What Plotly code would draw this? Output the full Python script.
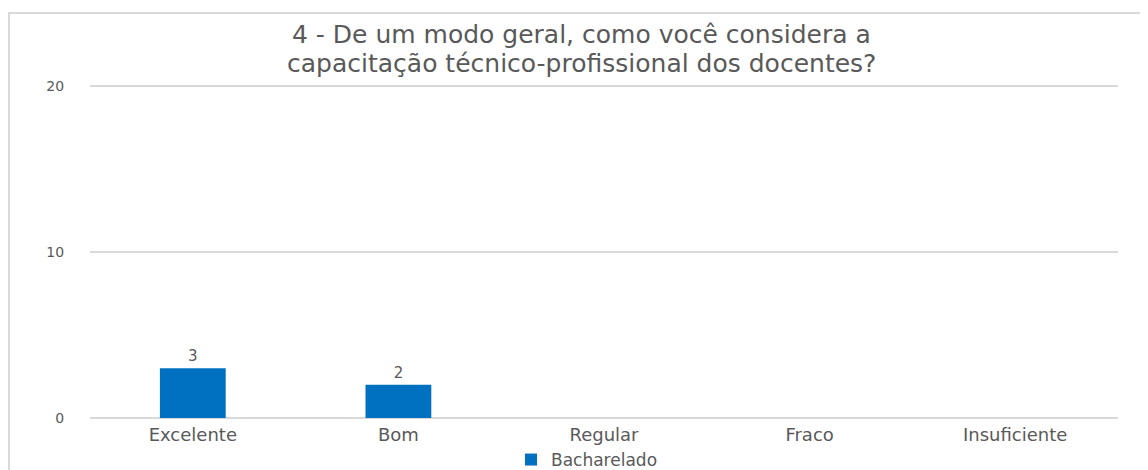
import plotly.graph_objects as go

categories = ["Excelente", "Bom", "Regular", "Fraco", "Insuficiente"]
values = [3, 2, None, None, None]
labels = ["3", "2", "", "", ""]
series_name = "Bacharelado"
title_lines = ["4 - De um modo geral, como você considera a",
               "capacitação técnico-profissional dos docentes?"]

OFF = 8  # page body margin
W, H = 1148 - OFF, 470 - OFF
YMAX = 20.4
unit = (418 - 86) / 20.0
ml, mr = 90 - OFF, 30
mb = H - (418 - OFF)
mt = (418 - OFF) - int(round(unit * YMAX))
pw, ph = W - ml - mr, H - mt - mb

def px_x(x):
    return (x - OFF - ml) / pw

def px_y(y):
    return (H - mb - (y - OFF)) / ph

fig = go.Figure()
fig.add_trace(go.Bar(
    x=categories, y=values, name=series_name,
    marker=dict(color="#0070C0", line=dict(width=0)),
    width=0.32,
    text=labels, textposition="outside",
    textfont=dict(family="DejaVu Sans", size=15, color="#595959"),
    cliponaxis=False,
    showlegend=True,
))

annotations = []
for line, yc in zip(title_lines, [34, 64]):
    annotations.append(dict(text=line, xref="paper", yref="paper",
                            x=px_x(581), y=px_y(yc), xanchor="center", yanchor="middle",
                            showarrow=False,
                            font=dict(family="DejaVu Sans", size=25, color="#595959")))

fig.update_layout(
    width=W, height=H,
    margin=dict(l=ml, r=mr, t=mt, b=mb, autoexpand=False),
    paper_bgcolor="white", plot_bgcolor="white",
    annotations=annotations,
    xaxis=dict(showgrid=False, showline=False, ticks="", ticklabelstandoff=4,
               tickfont=dict(family="DejaVu Sans", size=18, color="#595959")),
    yaxis=dict(range=[0, YMAX], tickvals=[0, 10, 20], showgrid=True,
               gridcolor="#D9D9D9", gridwidth=1.5, zeroline=True,
               zerolinecolor="#D9D9D9", zerolinewidth=1.5, showline=False,
               ticks="outside", ticklen=22, tickcolor="rgba(0,0,0,0)",
               tickfont=dict(family="DejaVu Sans", size=14, color="#595959")),
    legend=dict(orientation="h", x=px_x(587), xanchor="center",
                y=px_y(460), yanchor="middle", bgcolor="rgba(0,0,0,0)",
                font=dict(family="DejaVu Sans", size=17, color="#595959"),
                itemwidth=30),
    shapes=[dict(type="rect", xref="paper", yref="paper",
                 x0=px_x(9), x1=px_x(1146),
                 y0=px_y(490), y1=px_y(13),
                 line=dict(color="#D9D9D9", width=2), fillcolor="rgba(0,0,0,0)",
                 layer="below")],
)

fig.write_html("out.html")
